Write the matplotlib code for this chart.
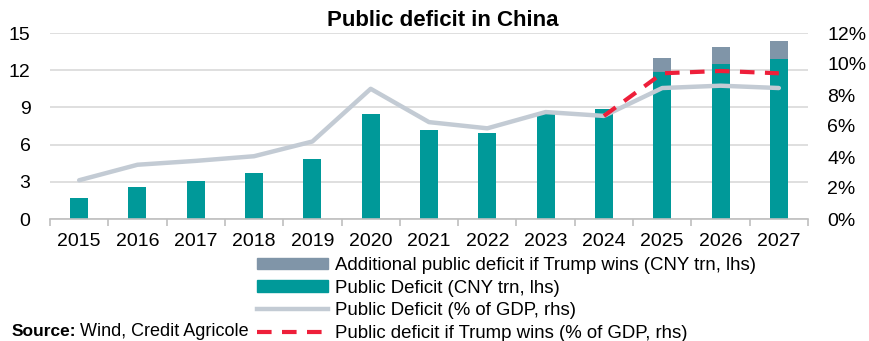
import matplotlib
matplotlib.use("Agg")
import matplotlib.pyplot as plt
import matplotlib.patches as mpatches
import matplotlib.lines as mlines
import numpy as np

plt.rcParams['font.family'] = ['Liberation Sans', 'DejaVu Sans']

years = ['2015', '2016', '2017', '2018', '2019', '2020', '2021', '2022', '2023',
         '2024', '2025', '2026', '2027']
deficit_cny = [1.7, 2.6, 3.1, 3.7, 4.85, 8.5, 7.2, 6.95, 8.55, 8.9, 11.85, 12.5, 12.9]
additional_cny = [0, 0, 0, 0, 0, 0, 0, 0, 0, 0, 1.15, 1.4, 1.45]
deficit_pct = [2.5, 3.5, 3.75, 4.05, 5.0, 8.4, 6.25, 5.85, 6.9, 6.65, 8.45, 8.6, 8.45]
trump_years = ['2024', '2025', '2026', '2027']
trump_pct = [6.65, 9.4, 9.55, 9.4]

teal = '#009999'
addgray = '#8095A8'
linegray = '#C3CBD4'
red = '#EE1F3A'

fig = plt.figure(figsize=(8.69, 3.41), dpi=100)
ax = fig.add_axes([50/869, 1-219/341, 758/869, 186/341])
x = np.arange(len(years))
ax.bar(x, deficit_cny, width=0.31, color=teal, zorder=2)
ax.bar(x, additional_cny, width=0.31, bottom=deficit_cny, color=addgray, zorder=2)
ax.set_xlim(-0.5, len(years)-0.5)
ax.set_ylim(0, 15)
ax.set_yticks([0, 3, 6, 9, 12, 15])
ax.grid(axis='y', color='#D9D9D9', linewidth=1.2, zorder=0)
ax.set_axisbelow(True)
for s in ['top', 'right', 'left']:
    ax.spines[s].set_visible(False)
ax.spines['bottom'].set_color('#BFBFBF')
ax.spines['bottom'].set_linewidth(1.2)
ax.set_xticks(x)
ax.set_xticklabels(years)
ax.set_xticks(np.arange(-0.5, len(years)), minor=True)
ax.tick_params(axis='x', which='major', length=0, labelsize=14, pad=10)
ax.tick_params(axis='x', which='minor', length=5, color='#BFBFBF', width=1.2)
ax.tick_params(axis='y', length=0, labelsize=14, pad=14)

ax2 = ax.twinx()
ax2.set_ylim(0, 12)
ax2.set_yticks([0, 2, 4, 6, 8, 10, 12])
ax2.set_yticklabels([f'{v}%' for v in [0, 2, 4, 6, 8, 10, 12]])
ax2.tick_params(axis='y', length=0, labelsize=14, pad=14)
for s in ['top', 'right', 'left', 'bottom']:
    ax2.spines[s].set_visible(False)
ax2.plot(x, deficit_pct, color=linegray, linewidth=3.2, solid_capstyle='round', zorder=3)
tx = [years.index(y) for y in trump_years]
ax2.plot(tx, trump_pct, color=red, linewidth=3.0, dashes=(3.5, 2.5), zorder=4)

fig.text(443/869, 1-20.5/341, 'Public deficit in China', ha='center', va='center',
         fontsize=16, fontweight='bold')

handles = [mpatches.Patch(color=addgray), mpatches.Patch(color=teal),
           mlines.Line2D([], [], color=linegray, linewidth=3.2),
           mlines.Line2D([], [], color=red, linewidth=3.0, dashes=(3.5, 2.5))]
labels = ['Additional public deficit if Trump wins (CNY trn, lhs)',
          'Public Deficit (CNY trn, lhs)',
          'Public Deficit (% of GDP, rhs)',
          'Public deficit if Trump wins (% of GDP, rhs)']
leg = fig.legend(handles, labels, loc='upper left', bbox_to_anchor=(257/869, 1-257/341),
                 frameon=False, handlelength=3.8, handleheight=0.55,
                 labelspacing=0.3, handletextpad=0.4, borderpad=0, borderaxespad=0,
                 prop={'size': 13.4})

src = fig.text(12/869, 1-331/341, 'Source:', ha='left', va='center', fontsize=12.5,
               fontweight='bold')
fig.canvas.draw()
bb = src.get_window_extent(renderer=fig.canvas.get_renderer())
fig.text((bb.x1 + 3)/869, 1-331/341, 'Wind, Credit Agricole', ha='left', va='center',
         fontsize=13)

fig.savefig('out.png', dpi=100)
